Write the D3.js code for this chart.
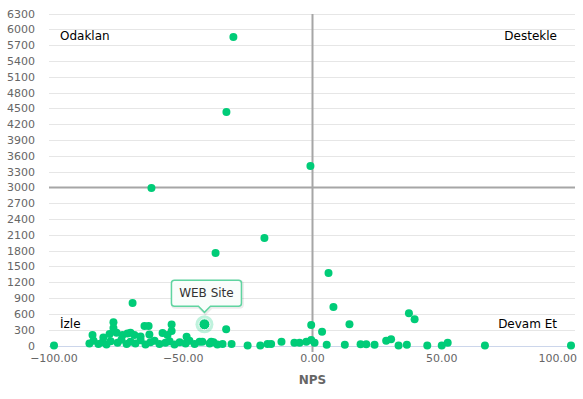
<!DOCTYPE html>
<html>
<head>
<meta charset="utf-8">
<script src="https://cdn.jsdelivr.net/npm/d3@7"></script>
<style>
  body { margin: 0; background: #fff; }
  text { font-family: "DejaVu Sans", "Lucida Grande", sans-serif; }
</style>
</head>
<body>
<div id="chart"></div>
<script>
// scatter: NPS vs count, four quadrants

const npsValues = [
  -100, -86.3, -84.7, -82.8, -81.2, -79.7, -78.1, -75.4, -73.9, -71.9, -70.4,
  -68.5, -66.5, -64.6, -62.7, -61.1, -59.2, -56.9, -55.3, -53.4, -51.4, -49.1,
  -47.6, -45.6, -43.7, -39.8, -38.3, -36.8,
  -85.1, -80.9, -78.5, -75.8, -73.5, -71.6, -70.4, -68.9, -66.5, -63.1, -58.0,
  -56.1, -48.7,
  -77.0, -77.0, -65.0, -63.4, -54.5, -54.5, -69.6,
  -62.3, -30.6, -33.3, -18.6, -37.5, -33.4,
  -42.6, -39.2, -34.8, -31.3, -25.1, -20.2, -17.4, -16.0, -12.0, -7.0, -5.0,
  -2.4, -0.5, 0.8, -0.5, -0.8, 3.7, 5.5, 6.2, 8.1, 12.5, 14.3, 18.6, 20.8,
  24.0, 28.5, 30.4, 33.3, 36.5, 37.3, 39.5, 44.4, 50.0, 52.3, 66.7, 100
]
const countValues = [
  0, 40, 90, 30, 60, 20, 80, 50, 110, 30, 70,
  40, 100, 20, 60, 90, 30, 50, 80, 20, 60, 40,
  90, 30, 70, 40, 60, 20,
  200, 150, 220, 240, 200, 230, 240, 200, 170, 210, 237,
  200, 167,
  440, 330, 370, 370, 400, 275, 807,
  2988, 5855, 4431, 2040, 1755, 307,
  72, 72, 30, 30, 0, 0, 30, 30, 72, 53, 53,
  72, 104, 53, 390, 3406, 262, 15, 1376, 731, 15, 402, 25, 25,
  15, 91, 118, 0, 15, 610, 500, 0, 0, 53, 0, 0
]
const highlightName = "WEB Site"
const highlightPoint = [-41.8, 402]

const yTicks = d3.range(0, 6301, 300)
const xTicks = [-100, -50, 0, 50, 100]
const quadrantLabels = ["Odaklan", "Destekle", "İzle", "Devam Et"]
const xSplit = 0
const ySplit = 3000

let width = 583
let height = 399
let plotLeft = 49, plotRight = 575, plotTop = 14

var svg = d3.select("#chart")
    .append("svg")
    .attr("width", width)
    .attr("height", height)

var x = d3.scaleLinear().domain([-100, 100]).range([54, 571])
var y = d3.scaleLinear().domain([0, 6300]).range([345.5, 13.5])

var green = "#00cc78"

// horizontal grid
svg.append("g").selectAll("line")
    .data(yTicks.filter(d => d > 0))
    .enter()
    .append("line")
    .attr("x1", plotLeft).attr("x2", plotRight)
    .attr("y1", d => Math.round(y(d)) + 0.5)
    .attr("y2", d => Math.round(y(d)) + 0.5)
    .attr("stroke", "#e6e6e6")

// x axis line
svg.append("line")
    .attr("x1", plotLeft).attr("x2", plotRight)
    .attr("y1", Math.round(y(0)) + 0.5).attr("y2", Math.round(y(0)) + 0.5)
    .attr("stroke", "#ccd6eb")

// y labels
svg.append("g").selectAll("text")
    .data(yTicks)
    .enter()
    .append("text")
    .attr("x", 35)
    .attr("y", d => y(d) + 4)
    .attr("text-anchor", "end")
    .style("font-size", "11px")
    .attr("fill", "#666")
    .text(d => d)

// x labels (last one pulled inside like highcharts does)
svg.append("g").selectAll("text")
    .data(xTicks)
    .enter()
    .append("text")
    .attr("x", (d, i) => i == xTicks.length - 1 ? 577 : x(d))
    .attr("y", 362)
    .attr("text-anchor", (d, i) => i == xTicks.length - 1 ? "end" : "middle")
    .style("font-size", "11px")
    .attr("fill", "#666")
    .text(d => d3.format(".2f")(d).replace("-", "−"))

svg.append("text")
    .attr("x", x(0))
    .attr("y", 384)
    .attr("text-anchor", "middle")
    .style("font-size", "12px")
    .style("font-weight", "bold")
    .attr("fill", "#666")
    .text("NPS")

// split lines
svg.append("line")
    .attr("x1", plotLeft).attr("x2", plotRight)
    .attr("y1", y(ySplit)).attr("y2", y(ySplit))
    .attr("stroke", "#a6a6a6").attr("stroke-width", 2)
svg.append("line")
    .attr("x1", x(xSplit)).attr("x2", x(xSplit))
    .attr("y1", plotTop).attr("y2", 352)
    .attr("stroke", "#a6a6a6").attr("stroke-width", 2)

// quadrant labels
var qpos = [[60, 40, "start"], [557, 40, "end"], [60, 328, "start"], [557, 328, "end"]]
svg.append("g").selectAll("text")
    .data(quadrantLabels)
    .enter()
    .append("text")
    .attr("x", (d, i) => qpos[i][0])
    .attr("y", (d, i) => qpos[i][1])
    .attr("text-anchor", (d, i) => qpos[i][2])
    .style("font-size", "12px")
    .attr("fill", "#000")
    .text(d => d)

// points
var points = npsValues.map((v, i) => [v, countValues[i]])
svg.append("g").selectAll("circle")
    .data(points)
    .enter()
    .append("circle")
    .attr("cx", d => x(d[0]))
    .attr("cy", d => y(d[1]))
    .attr("r", 4)
    .attr("fill", green)

// hovered point + tooltip
var hx = x(highlightPoint[0]), hy = y(highlightPoint[1])
svg.append("circle")
    .attr("cx", hx).attr("cy", hy).attr("r", 9)
    .attr("fill", green).attr("opacity", 0.25)
svg.append("circle")
    .attr("cx", hx).attr("cy", hy).attr("r", 5.5)
    .attr("fill", green).attr("stroke", "#fff").attr("stroke-width", 1)

var tw = 70, th = 26, tx = hx - 33, ty = hy - 44
var tipPath = "M" + (tx + 3) + "," + ty +
    " L" + (tx + tw - 3) + "," + ty +
    " Q" + (tx + tw) + "," + ty + " " + (tx + tw) + "," + (ty + 3) +
    " L" + (tx + tw) + "," + (ty + th - 3) +
    " Q" + (tx + tw) + "," + (ty + th) + " " + (tx + tw - 3) + "," + (ty + th) +
    " L" + (hx + 6) + "," + (ty + th) +
    " L" + hx + "," + (ty + th + 6) +
    " L" + (hx - 6) + "," + (ty + th) +
    " L" + (tx + 3) + "," + (ty + th) +
    " Q" + tx + "," + (ty + th) + " " + tx + "," + (ty + th - 3) +
    " L" + tx + "," + (ty + 3) +
    " Q" + tx + "," + ty + " " + (tx + 3) + "," + ty + " Z"
svg.append("path")
    .attr("d", tipPath)
    .attr("transform", "translate(1,1)")
    .attr("fill", "none")
    .attr("stroke", "#000").attr("stroke-opacity", 0.08).attr("stroke-width", 3)
svg.append("path")
    .attr("d", tipPath)
    .attr("fill", "#f9fdfb")
    .attr("stroke", "#5fd4a0").attr("stroke-width", 1.5)
svg.append("text")
    .attr("x", tx + tw / 2)
    .attr("y", ty + 17)
    .attr("text-anchor", "middle")
    .style("font-size", "12px")
    .attr("fill", "#333")
    .text(highlightName)
</script>
</body>
</html>
